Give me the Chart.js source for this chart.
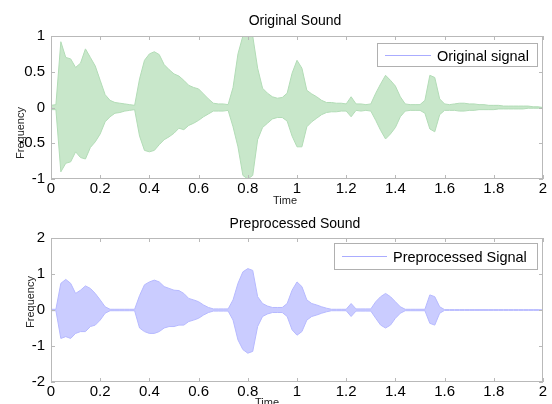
<!DOCTYPE html>
<html>
<head>
<meta charset="utf-8">
<script src="https://cdn.jsdelivr.net/npm/chart.js@4.4.1/dist/chart.umd.min.js"></script>
<style>
  html, body { margin: 0; padding: 0; background: #fff; }
  #wrap { position: relative; width: 552px; height: 404px; overflow: hidden; }
  canvas { position: absolute; left: 0; top: 0; }
</style>
</head>
<body>
<div id="wrap">
  <canvas id="chart-orig" width="552" height="404"></canvas>
  <canvas id="chart-proc" width="552" height="404"></canvas>
</div>
<script>
// time of each envelope sample (s)
var timeAxis = [
  0.00, 0.02, 0.04, 0.06, 0.08, 0.10, 0.12, 0.14, 0.16, 0.18,
  0.20, 0.22, 0.24, 0.26, 0.28, 0.30, 0.32, 0.34, 0.36, 0.38,
  0.40, 0.42, 0.44, 0.46, 0.48, 0.50, 0.52, 0.54, 0.56, 0.58,
  0.60, 0.62, 0.64, 0.66, 0.68, 0.70, 0.72, 0.74, 0.76, 0.78,
  0.80, 0.82, 0.84, 0.86, 0.88, 0.90, 0.92, 0.94, 0.96, 0.98,
  1.00, 1.02, 1.04, 1.06, 1.08, 1.10, 1.12, 1.14, 1.16, 1.18,
  1.20, 1.22, 1.24, 1.26, 1.28, 1.30, 1.32, 1.34, 1.36, 1.38,
  1.40, 1.42, 1.44, 1.46, 1.48, 1.50, 1.52, 1.54, 1.56, 1.58,
  1.60, 1.62, 1.64, 1.66, 1.68, 1.70, 1.72, 1.74, 1.76, 1.78,
  1.80, 1.82, 1.84, 1.86, 1.88, 1.90, 1.92, 1.94, 1.96, 1.98,
  2.00
];

// original signal: upper / lower envelope
var origHi = [
  0.03, 0.04, 0.92, 0.70, 0.68, 0.56, 0.62, 0.82, 0.70, 0.58,
  0.38, 0.18, 0.10, 0.07, 0.06, 0.05, 0.04, 0.03, 0.40, 0.66,
  0.75, 0.78, 0.74, 0.60, 0.53, 0.47, 0.44, 0.38, 0.31, 0.28,
  0.26, 0.19, 0.12, 0.06, 0.05, 0.05, 0.04, 0.28, 0.75, 1.00,
  1.00, 1.00, 0.55, 0.27, 0.20, 0.15, 0.13, 0.14, 0.20, 0.48,
  0.66, 0.55, 0.24, 0.19, 0.15, 0.10, 0.07, 0.07, 0.06, 0.06,
  0.05, 0.15, 0.05, 0.05, 0.04, 0.05, 0.20, 0.33, 0.45, 0.38,
  0.30, 0.15, 0.05, 0.04, 0.04, 0.04, 0.10, 0.45, 0.42, 0.12,
  0.05, 0.04, 0.05, 0.06, 0.06, 0.05, 0.05, 0.04, 0.04, 0.03,
  0.03, 0.03, 0.02, 0.02, 0.02, 0.02, 0.02, 0.02, 0.01, 0.01,
  0.00
];
var origLo = [
  -0.03, -0.03, -0.90, -0.78, -0.76, -0.62, -0.70, -0.72, -0.56, -0.48,
  -0.37, -0.20, -0.13, -0.08, -0.07, -0.05, -0.04, -0.03, -0.40, -0.60,
  -0.62, -0.60, -0.52, -0.45, -0.41, -0.36, -0.29, -0.31, -0.25, -0.22,
  -0.18, -0.13, -0.09, -0.05, -0.05, -0.05, -0.04, -0.27, -0.55, -0.95,
  -1.00, -0.95, -0.45, -0.28, -0.22, -0.16, -0.14, -0.14, -0.19, -0.40,
  -0.55, -0.55, -0.27, -0.20, -0.15, -0.10, -0.07, -0.06, -0.06, -0.05,
  -0.05, -0.13, -0.04, -0.05, -0.04, -0.05, -0.18, -0.32, -0.44, -0.37,
  -0.28, -0.13, -0.05, -0.04, -0.04, -0.04, -0.08, -0.30, -0.34, -0.10,
  -0.04, -0.04, -0.04, -0.05, -0.05, -0.04, -0.04, -0.03, -0.03, -0.03,
  -0.03, -0.02, -0.02, -0.02, -0.02, -0.02, -0.02, -0.01, -0.01, -0.01,
  0.00
];

// preprocessed signal envelope
var procHi = [
  0.02, 0.02, 0.74, 0.85, 0.74, 0.46, 0.55, 0.67, 0.60, 0.46,
  0.28, 0.09, 0.02, 0.02, 0.02, 0.02, 0.02, 0.02, 0.40, 0.70,
  0.78, 0.83, 0.78, 0.65, 0.60, 0.55, 0.54, 0.46, 0.32, 0.28,
  0.23, 0.14, 0.07, 0.03, 0.03, 0.03, 0.03, 0.28, 0.74, 1.06,
  1.15, 1.10, 0.37, 0.18, 0.11, 0.07, 0.07, 0.07, 0.18, 0.55,
  0.78, 0.65, 0.28, 0.18, 0.14, 0.09, 0.05, 0.02, 0.02, 0.02,
  0.02, 0.18, 0.03, 0.03, 0.03, 0.03, 0.23, 0.37, 0.46, 0.37,
  0.23, 0.09, 0.02, 0.02, 0.02, 0.02, 0.02, 0.42, 0.37, 0.09,
  0.01, 0.01, 0.01, 0.01, 0.01, 0.01, 0.01, 0.01, 0.01, 0.01,
  0.01, 0.01, 0.01, 0.01, 0.01, 0.01, 0.01, 0.01, 0.01, 0.01,
  0.00
];
var procLo = [
  -0.02, -0.02, -0.79, -0.74, -0.79, -0.65, -0.60, -0.60, -0.46, -0.42,
  -0.28, -0.09, -0.02, -0.02, -0.02, -0.02, -0.02, -0.02, -0.50, -0.60,
  -0.65, -0.65, -0.60, -0.50, -0.46, -0.46, -0.42, -0.42, -0.32, -0.28,
  -0.23, -0.14, -0.07, -0.03, -0.03, -0.03, -0.03, -0.28, -0.83, -1.10,
  -1.20, -1.15, -0.46, -0.18, -0.11, -0.07, -0.07, -0.07, -0.18, -0.55,
  -0.70, -0.60, -0.28, -0.18, -0.14, -0.09, -0.05, -0.02, -0.02, -0.02,
  -0.02, -0.18, -0.03, -0.03, -0.03, -0.03, -0.23, -0.42, -0.50, -0.42,
  -0.23, -0.09, -0.02, -0.02, -0.02, -0.02, -0.02, -0.37, -0.42, -0.09,
  -0.01, -0.01, -0.01, -0.01, -0.01, -0.01, -0.01, -0.01, -0.01, -0.01,
  -0.01, -0.01, -0.01, -0.01, -0.01, -0.01, -0.01, -0.01, -0.01, -0.01,
  0.00
];

// tick labels
var xTicks = [0, 0.2, 0.4, 0.6, 0.8, 1, 1.2, 1.4, 1.6, 1.8, 2];
var yTicksOrig = [-1, -0.5, 0, 0.5, 1];
var yTicksProc = [-2, -1, 0, 1, 2];

var FONT = "'Liberation Sans', Arial, sans-serif";

/**
 * 画框、朝内的刻度、标题、轴标签和图例
 */
var decoPlugin = {
  id: 'deco',
  afterDraw: function(chart, args, o) {
    var ctx = chart.ctx;
    var a = chart.chartArea;
    var xs = chart.scales.x, ys = chart.scales.y;
    ctx.save();

    // axes box
    ctx.strokeStyle = '#b9b9b9';
    ctx.lineWidth = 1;
    ctx.strokeRect(a.left + 0.5, a.top + 0.5, a.right - a.left - 1, a.bottom - a.top - 1);

    // inward ticks on all four sides
    ctx.beginPath();
    xTicks.forEach(function(v) {
      var px = Math.round(xs.getPixelForValue(v)) + 0.5;
      ctx.moveTo(px, a.bottom); ctx.lineTo(px, a.bottom - 4);
      ctx.moveTo(px, a.top); ctx.lineTo(px, a.top + 4);
    });
    o.yTicks.forEach(function(v) {
      var py = Math.round(ys.getPixelForValue(v)) + 0.5;
      ctx.moveTo(a.left, py); ctx.lineTo(a.left + 4, py);
      ctx.moveTo(a.right, py); ctx.lineTo(a.right - 4, py);
    });
    ctx.stroke();

    // title
    ctx.fillStyle = '#000';
    ctx.font = '14px ' + FONT;
    ctx.textAlign = 'center';
    ctx.textBaseline = 'alphabetic';
    ctx.fillText(o.title, o.titleX, o.titleY);

    // x label
    ctx.font = '11px ' + FONT;
    ctx.fillStyle = '#222';
    ctx.textBaseline = 'top';
    ctx.fillText('Time', o.timeX, o.timeY);

    // y label
    ctx.save();
    ctx.translate(o.freqX, o.freqY);
    ctx.rotate(-Math.PI / 2);
    ctx.textBaseline = 'middle';
    ctx.fillText('Frequency', 0, 0);
    ctx.restore();

    // legend
    var b = o.box;
    ctx.fillStyle = '#fff';
    ctx.fillRect(b[0], b[1], b[2], b[3]);
    ctx.strokeStyle = '#b0b0b0';
    ctx.strokeRect(b[0] + 0.5, b[1] + 0.5, b[2], b[3]);
    var ly = Math.round(b[1] + b[3] / 2) + 0.5;
    ctx.strokeStyle = 'rgb(170, 172, 255)';
    ctx.beginPath();
    ctx.moveTo(b[0] + 8, ly);
    ctx.lineTo(b[0] + 8 + o.lineLen, ly);
    ctx.stroke();
    ctx.fillStyle = '#000';
    ctx.font = '14.5px ' + FONT;
    ctx.textAlign = 'left';
    ctx.textBaseline = 'middle';
    ctx.fillText(chart.data.datasets[0].label, b[0] + 14 + o.lineLen, ly + 1);

    ctx.restore();
  }
};

function makeChart(id, label, hi, lo, fillColor, edgeColor, yTicks, pad, deco) {
  var hiPts = timeAxis.map(function(t, i) { return { x: t, y: hi[i] }; });
  var loPts = timeAxis.map(function(t, i) { return { x: t, y: lo[i] }; });
  deco.yTicks = yTicks;
  var tickFont = { family: FONT, size: 15 };

  return new Chart(document.getElementById(id), {
    type: 'line',
    data: {
      datasets: [{
        label: label,
        data: hiPts,
        borderColor: edgeColor,
        borderWidth: 1,
        pointRadius: 0,
        tension: 0,
        fill: false
      }, {
        label: label + ' (lower)',
        data: loPts,
        borderColor: edgeColor,
        backgroundColor: fillColor,
        borderWidth: 1,
        pointRadius: 0,
        tension: 0,
        fill: '-1'
      }]
    },
    options: {
      responsive: false,
      animation: false,
      devicePixelRatio: 1,
      layout: { padding: pad },
      plugins: {
        legend: { display: false },
        tooltip: { enabled: false },
        deco: deco
      },
      scales: {
        x: {
          type: 'linear',
          min: 0,
          max: 2,
          grid: { display: false, drawTicks: false },
          border: { display: false },
          afterBuildTicks: function(s) {
            s.ticks = xTicks.map(function(v) { return { value: v }; });
          },
          afterFit: function(s) { s.height = 20; },
          ticks: {
            padding: 1,
            color: '#000',
            font: tickFont,
            maxRotation: 0,
            autoSkip: false,
            callback: function(v) { return String(v); }
          }
        },
        y: {
          min: yTicks[0],
          max: yTicks[yTicks.length - 1],
          grid: { display: false, drawTicks: false },
          border: { display: false },
          afterBuildTicks: function(s) {
            s.ticks = yTicks.map(function(v) { return { value: v }; });
          },
          afterFit: function(s) { s.width = 40; },
          ticks: {
            padding: 6,
            color: '#000',
            font: tickFont,
            autoSkip: false,
            callback: function(v) { return String(v); }
          }
        }
      }
    },
    plugins: [decoPlugin]
  });
}

// 原始信号
makeChart('chart-orig', 'Original signal', origHi, origLo,
  'rgb(200, 231, 202)', 'rgb(178, 220, 182)', yTicksOrig,
  { left: 11, right: 9, top: 36, bottom: 205 },
  { title: 'Original Sound', titleX: 295, titleY: 25, timeX: 285, timeY: 195,
    freqX: 21, freqY: 133, box: [377, 43, 160, 23], lineLen: 46 });

// 预处理后的信号
makeChart('chart-proc', 'Preprocessed Signal', procHi, procLo,
  'rgb(202, 204, 255)', 'rgb(182, 185, 255)', yTicksProc,
  { left: 11, right: 9, top: 238, bottom: 2 },
  { title: 'Preprocessed Sound', titleX: 295, titleY: 228, timeX: 267, timeY: 397,
    freqX: 31, freqY: 302, box: [334, 243, 203, 26], lineLen: 45 });
</script>
</body>
</html>
